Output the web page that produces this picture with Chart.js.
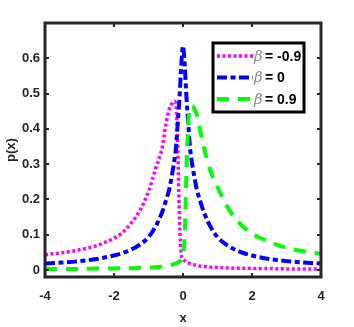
<!DOCTYPE html>
<html>
<head>
<meta charset="utf-8">
<script src="https://cdn.jsdelivr.net/npm/chart.js@4.4.0/dist/chart.umd.min.js"></script>
<style>
html, body { margin: 0; padding: 0; background: #fff; }
#wrap { width: 354px; height: 327px; }
</style>
</head>
<body>
<div id="wrap"><canvas id="pdfChart"></canvas></div>
<script>
// values
const xValues = [-4, -3.5, -3, -2.5, -2, -1.75, -1.5, -1.25, -1, -0.8, -0.6, -0.5, -0.4,
    -0.3, -0.25, -0.2, -0.15, -0.1, -0.05, 0, 0.05, 0.1, 0.15, 0.2, 0.25, 0.3,
    0.4, 0.5, 0.6, 0.8, 1, 1.25, 1.5, 1.75, 2, 2.5, 3, 3.5, 4];

const pBetaNeg = [0.043, 0.049, 0.057, 0.069, 0.09, 0.106, 0.133, 0.168, 0.222, 0.285, 0.348, 0.41, 0.455,
    0.474, 0.478, 0.465, 0.34, 0.14, 0.045, 0.03, 0.026, 0.022, 0.02, 0.018, 0.016, 0.015,
    0.013, 0.011, 0.01, 0.008, 0.007, 0.006, 0.005, 0.005, 0.004, 0.004, 0.003, 0.003, 0.003];

const pBetaZero = [0.018, 0.021, 0.025, 0.031, 0.041, 0.048, 0.058, 0.072, 0.093, 0.122, 0.165, 0.195, 0.228,
    0.28, 0.31, 0.35, 0.42, 0.49, 0.58, 0.635, 0.58, 0.49, 0.42, 0.35, 0.31, 0.28,
    0.228, 0.195, 0.165, 0.122, 0.093, 0.072, 0.058, 0.048, 0.041, 0.031, 0.025, 0.021, 0.018];

const pBetaPos = [0.003, 0.003, 0.003, 0.004, 0.004, 0.005, 0.005, 0.006, 0.007, 0.008, 0.01, 0.011, 0.013,
    0.015, 0.017, 0.019, 0.021, 0.024, 0.03, 0.042, 0.1, 0.28, 0.41, 0.458, 0.465, 0.462,
    0.44, 0.395, 0.35, 0.28, 0.235, 0.185, 0.148, 0.122, 0.103, 0.08, 0.063, 0.053, 0.046];

const betaLabels = ['-0.9', '0', '0.9'];
const xTicks = [-4, -2, 0, 2, 4];
const yTicks = [0, 0.1, 0.2, 0.3, 0.4, 0.5, 0.6];

const axisColor = '#262626';
const fontFamily = '"Liberation Sans", Arial, sans-serif';

function toPoints(values) {
    return xValues.map((x, i) => ({ x: x, y: values[i] }));
}

// frame, inward ticks and legend box drawn over the plot like in MATLAB
const framePlugin = {
    id: 'matlabFrame',
    afterDatasetsDraw(chart) {
        const { ctx, chartArea: a, scales: { x, y } } = chart;
        ctx.save();
        ctx.strokeStyle = axisColor;
        ctx.lineWidth = 2;
        ctx.beginPath();
        xTicks.forEach(v => {
            const px = Math.round(x.getPixelForValue(v));
            ctx.moveTo(px, a.bottom); ctx.lineTo(px, a.bottom - 4);
            ctx.moveTo(px, a.top); ctx.lineTo(px, a.top + 4);
        });
        yTicks.forEach(v => {
            const py = Math.round(y.getPixelForValue(v));
            ctx.moveTo(a.left, py); ctx.lineTo(a.left + 4, py);
            ctx.moveTo(a.right, py); ctx.lineTo(a.right - 4, py);
        });
        ctx.stroke();
        ctx.lineWidth = 3;
        ctx.strokeRect(a.left, a.top, a.right - a.left, a.bottom - a.top);

        // legend
        const box = { left: 213, top: 43, width: 91, height: 69 };
        ctx.fillStyle = '#fff';
        ctx.fillRect(box.left, box.top, box.width, box.height);
        ctx.strokeStyle = '#000';
        ctx.lineWidth = 3;
        ctx.strokeRect(box.left, box.top, box.width, box.height);

        chart.data.datasets.forEach((ds, i) => {
            const rowY = 56 + i * 21.5;
            ctx.save();
            ctx.strokeStyle = ds.borderColor;
            ctx.lineWidth = ds.borderWidth;
            ctx.setLineDash(ds.borderDash);
            ctx.beginPath();
            ctx.moveTo(217, rowY);
            ctx.lineTo(253, rowY);
            ctx.stroke();
            ctx.restore();

            ctx.textBaseline = 'middle';
            ctx.textAlign = 'left';
            ctx.fillStyle = '#8a8a8a';
            ctx.font = 'italic 15px "DejaVu Serif", serif';
            ctx.fillText('\u03b2', 254, rowY + 1);
            ctx.fillStyle = '#000';
            ctx.font = 'bold 14px ' + fontFamily;
            ctx.fillText('= ' + betaLabels[i], 265, rowY + 1);
        });
        ctx.restore();
    }
};

const lineChart = new Chart(document.getElementById('pdfChart').getContext('2d'), {
    type: 'line',
    data: {
        datasets: [
            { label: '\u03b2 = -0.9', data: toPoints(pBetaNeg), borderColor: '#ff00ff', borderWidth: 3.5, borderDash: [3, 2.5], order: 2 },
            { label: '\u03b2 = 0', data: toPoints(pBetaZero), borderColor: '#0000ff', borderWidth: 4, borderDash: [10, 3.5, 5, 3.5], order: 1 },
            { label: '\u03b2 = 0.9', data: toPoints(pBetaPos), borderColor: '#00ff00', borderWidth: 4, borderDash: [12, 9], order: 0 }
        ]
    },
    options: {
        responsive: true,
        maintainAspectRatio: false,
        animation: false,
        layout: { padding: { top: 23, right: 33, left: 0, bottom: 0 } },
        elements: {
            point: { radius: 0 },
            line: { tension: 0, cubicInterpolationMode: 'monotone', borderCapStyle: 'butt', fill: false }
        },
        scales: {
            x: {
                type: 'linear',
                min: -4,
                max: 4,
                grid: { display: false, drawTicks: false },
                border: { display: false },
                afterBuildTicks: scale => { scale.ticks = xTicks.map(v => ({ value: v })); },
                afterFit: scale => { scale.height = 50; },
                ticks: { color: axisColor, padding: 12, font: { family: fontFamily, size: 13, weight: 'bold' }, callback: v => String(v) },
                title: { display: true, text: 'x', color: axisColor, padding: { top: 0, bottom: 1 }, font: { family: fontFamily, size: 13, weight: 'bold' } }
            },
            y: {
                type: 'linear',
                min: -0.02,
                max: 0.7,
                grid: { display: false, drawTicks: false },
                border: { display: false },
                afterBuildTicks: scale => { scale.ticks = yTicks.map(v => ({ value: v })); },
                afterFit: scale => { scale.width = 45; },
                ticks: { color: axisColor, padding: 5, font: { family: fontFamily, size: 13, weight: 'bold' }, callback: v => String(v) },
                title: { display: true, text: 'p(x)', color: axisColor, padding: { top: 4, bottom: 0 }, font: { family: fontFamily, size: 13, weight: 'bold' } }
            }
        },
        plugins: {
            legend: { display: false },
            tooltip: { enabled: false }
        }
    },
    plugins: [framePlugin]
});
</script>
</body>
</html>
